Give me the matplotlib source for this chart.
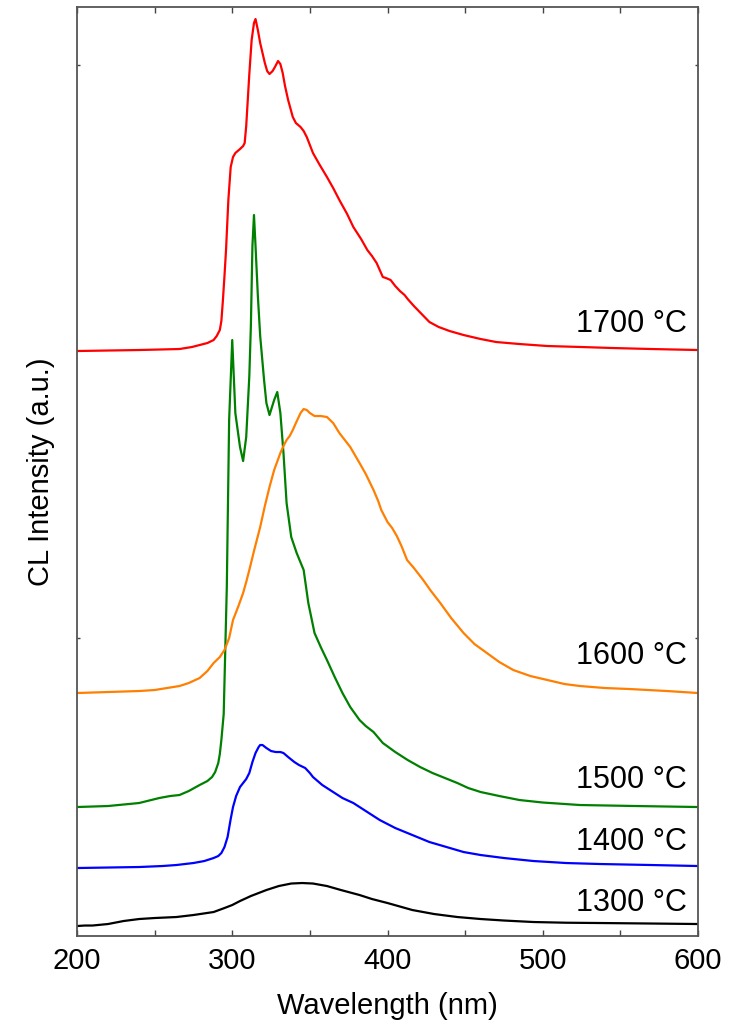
import matplotlib
matplotlib.use('Agg')
import matplotlib.pyplot as plt
from matplotlib.ticker import MultipleLocator

plt.rcParams['font.family'] = ['Liberation Sans', 'DejaVu Sans']

############################# spectra (a.u. incl. offset) #############################

wl_1300 = [200, 205, 210, 220, 230, 240, 250, 264, 275, 288, 295, 300, 305, 312, 322, 330, 338,
           345, 352, 361, 370, 382, 390, 400, 408, 416, 430, 445, 460, 475, 494, 515, 537, 570, 600]
cl_1300 = [10, 10.5, 10.5, 12, 15, 17, 18, 19, 21, 24, 28, 31, 35, 40, 46, 50, 52.5,
           53, 52.5, 50, 46, 41, 37, 33, 29.5, 26, 22, 19, 17, 15.5, 14, 13.3, 13, 12.5, 12]

wl_1400 = [200, 220, 240, 255, 264, 275, 282, 288, 291, 293, 295, 297, 299, 300.5, 302.5, 305,
           307, 309, 311, 313, 315, 317, 318, 319.5, 322, 325, 328, 331, 333, 336, 340, 343,
           347, 350, 352, 358, 365, 371, 378, 385, 395, 405, 416, 427, 438, 449, 460, 475,
           494, 515, 537, 570, 600]
cl_1400 = [68, 68.5, 69, 70, 71, 73, 75, 78, 80, 83, 89, 99, 117, 129, 140, 149,
           153, 157, 163, 174, 183, 189, 191, 191, 188, 185, 184, 184, 183, 179, 174, 171,
           168, 163, 159, 151, 144, 138, 133, 126, 116, 108, 101, 94, 89, 84, 81, 78,
           75, 73, 72, 71, 70]

wl_1500 = [200, 220, 240, 253, 260, 266, 272, 279, 284, 287, 289, 291, 292, 293, 294.5, 296.5,
           298, 300, 302, 305, 307, 309, 311, 312, 313, 314, 315, 316.5, 318, 320.5, 322, 324,
           327, 329, 331, 333, 335, 338, 341.5, 346, 349, 353, 357, 361, 366, 371, 376, 382,
           386, 391, 397, 405, 413, 421, 429, 437, 445, 452, 460, 472, 485, 500, 524, 560, 600]
cl_1500 = [129, 130, 133, 138, 140, 141, 145, 151, 155, 159, 164, 173, 182, 196, 222, 349,
           516, 596, 523, 489, 475, 499, 560, 610, 690, 721, 690, 640, 600, 556, 533, 521,
           536, 544, 523, 483, 433, 399, 383, 366, 333, 303, 289, 276, 259, 243, 229, 216,
           210, 204, 193, 184, 176, 169, 163, 158, 153, 148, 144, 140, 136, 133.5, 131, 130, 129]

wl_1600 = [200, 220, 240, 250, 258, 266, 272, 279, 284, 288, 292, 295, 298, 300.5, 304, 307,
           309, 311, 314, 318, 321, 324, 327, 331, 333, 335, 337, 339, 341, 344, 346, 348,
           350, 353, 357, 361, 363, 365, 367, 369, 372, 376, 379, 382, 386, 391, 394, 396,
           398, 400, 403, 406, 409, 412.6, 417, 423, 428, 434, 441, 449, 456, 464, 472, 481,
           492, 503, 514, 524, 540, 556, 580, 600]
cl_1600 = [243, 244, 245, 246, 248, 250, 253, 258, 265, 273, 279, 286, 298, 316, 330, 343,
           354, 366, 385, 409, 430, 449, 466, 483, 490, 496, 500, 506, 513, 523, 527, 526,
           523, 520, 520, 519, 516, 513, 508, 503, 497, 489, 481, 473, 462, 446, 435, 426,
           420, 414, 408, 400, 390, 376, 368, 356, 345, 333, 318, 303, 292, 283, 274, 266,
           260, 256, 252, 250, 248, 247, 245, 243]

wl_1700 = [200, 240, 266, 274, 279, 284, 288, 290, 292, 293, 294, 295, 296, 297.5, 299, 300.5,
           302, 305, 307, 308, 309, 310, 311, 312.5, 314, 315, 316.5, 318, 321, 322.5, 324, 326,
           327.5, 329.5, 331, 332.5, 334, 336, 339, 341, 344, 346, 348, 350, 352, 356, 361, 365,
           369, 374, 378, 383, 387, 390, 393, 395, 397, 399, 402, 405, 408, 411, 413, 417,
           422, 427, 433, 440, 449, 460, 470, 485, 503, 525, 545, 570, 600]
cl_1700 = [585, 586, 587, 589, 591, 593, 596, 600, 606, 615, 636, 660, 686, 736, 769, 779,
           783, 787, 790, 793, 810, 836, 862, 896, 913, 917, 906, 893, 873, 865, 862, 865,
           869, 875, 872, 863, 850, 836, 819, 813, 809, 805, 799, 791, 783, 772, 759, 748,
           736, 722, 709, 697, 686, 680, 673, 666, 659, 658, 656, 650, 645, 641, 637, 630,
           622, 614, 609, 605, 601, 597, 594, 592, 590, 589, 588, 587, 586]

labels = ['1300 °C', '1400 °C', '1500 °C', '1600 °C', '1700 °C']
label_y = [25, 86, 148, 272, 604]
colors = ['black', 'blue', 'green', '#ff7f00', 'red']

################################ plot ###########################################

fig = plt.figure(figsize=(7.31, 10.32), dpi=100)
ax = fig.add_axes([0.1053, 0.0930, 0.8496, 0.9002])

curves = [(wl_1300, cl_1300), (wl_1400, cl_1400), (wl_1500, cl_1500),
          (wl_1600, cl_1600), (wl_1700, cl_1700)]
for (wl, cl), col in zip(curves, colors):
    ax.plot(wl, cl, color=col, lw=1.6, solid_joinstyle='round')

for lab, yy in zip(labels, label_y):
    ax.text(593, yy, lab, ha='right', va='baseline', fontsize=22)

ax.set_xlim(200, 600)
ax.set_ylim(0, 929)
ax.xaxis.set_major_locator(MultipleLocator(100))
ax.xaxis.set_minor_locator(MultipleLocator(50))
ax.set_yticks([298, 871])
ax.set_yticklabels([])
ax.tick_params(axis='x', which='both', direction='in', top=True, labelsize=21, pad=8,
               length=4, width=1, colors='#444444', labelcolor='black')
ax.tick_params(axis='y', which='both', direction='in', right=True, length=2, width=1,
               colors='#444444')
for sp in ax.spines.values():
    sp.set_color('#555555')
    sp.set_linewidth(1.3)

ax.set_xlabel('Wavelength (nm)', fontsize=21, labelpad=12)
ax.set_ylabel('CL Intensity (a.u.)', fontsize=21, labelpad=12)

fig.savefig('out.png', dpi=100)
